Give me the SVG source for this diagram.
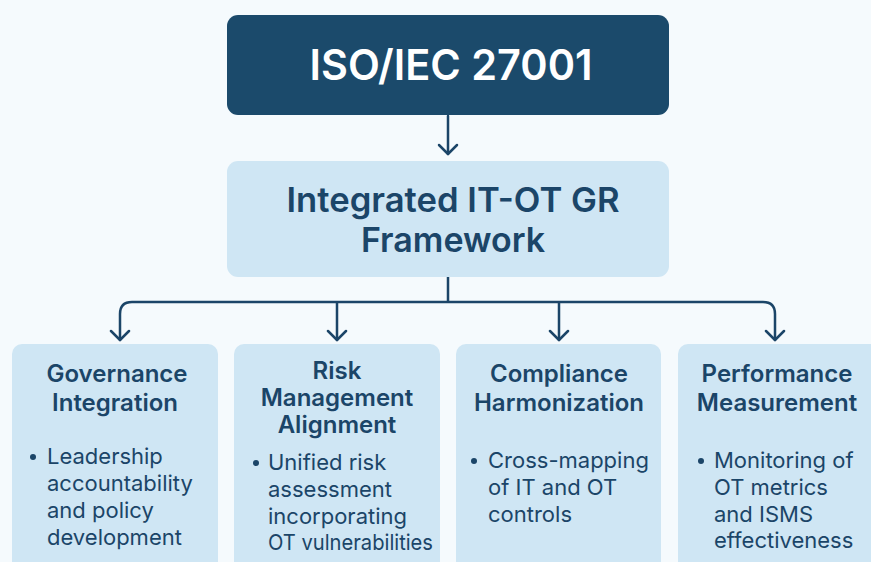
<svg xmlns="http://www.w3.org/2000/svg" width="871" height="562" viewBox="0 0 871 562">
<style>
.title{font-family:Inter,"Open Sans","Liberation Sans",sans-serif;font-weight:600;fill:#1b4568;text-anchor:middle}
.head{font-family:Inter,"Open Sans","Liberation Sans",sans-serif;font-weight:600;font-size:24px;fill:#1b4568;text-anchor:middle}
.body{font-family:Inter,"Open Sans","Liberation Sans",sans-serif;font-weight:400;font-size:22px;fill:#1b4568}
.card{fill:#cfe6f4}
.conn{fill:none;stroke:#1b4568;stroke-width:2.5;stroke-linecap:round;stroke-linejoin:round}
</style>
<rect width="871" height="562" fill="#f5fafd"/>
<g id="connectors">
<path class="conn" d="M448,116 V154"/>
<path class="conn" d="M448,154 l-9,-9 M448,154 l9,-9"/>
<path class="conn" d="M448,277 V302 M132,302 H763 M132,302 Q120,302 120,314 V340 M763,302 Q775,302 775,314 V340 M337,302 V340 M559,302 V340"/>
<path class="conn" d="M111,331 l9,9 l9,-9 M328,331 l9,9 l9,-9 M550,331 l9,9 l9,-9 M766,331 l9,9 l9,-9"/>
</g>
<g id="iso">
<rect x="227" y="15" width="442" height="100" rx="11" fill="#1b4a6b"/>
<text x="451" y="80" class="title" style="fill:#ffffff;font-size:42px" textLength="283" lengthAdjust="spacingAndGlyphs">ISO/IEC 27001</text>
</g>
<g id="framework">
<rect x="227" y="161" width="442" height="116" rx="11" class="card"/>
<text x="453" y="212" class="title" style="font-size:34px" textLength="333" lengthAdjust="spacingAndGlyphs">Integrated IT-OT GR</text>
<text x="453" y="252" class="title" style="font-size:34px">Framework</text>
</g>
<g id="governance">
<rect x="12" y="344" width="206" height="230" rx="10" class="card"/>
<text x="117" y="382" class="head">Governance</text>
<text x="115" y="411" class="head">Integration</text>
<circle cx="33" cy="457" r="3" fill="#1b4568"/>
<text class="body"><tspan x="47" y="464">Leadership</tspan><tspan x="47" y="491">accountability</tspan><tspan x="47" y="518">and policy</tspan><tspan x="47" y="545">development</tspan></text>
</g>
<g id="risk">
<rect x="234" y="344" width="206" height="230" rx="10" class="card"/>
<text x="337" y="379" class="head">Risk</text>
<text x="337" y="406" class="head">Management</text>
<text x="337" y="433" class="head">Alignment</text>
<circle cx="256" cy="463" r="3" fill="#1b4568"/>
<text class="body"><tspan x="268" y="470">Unified risk</tspan><tspan x="268" y="497">assessment</tspan><tspan x="268" y="524">incorporating</tspan><tspan x="268" y="550" textLength="165" lengthAdjust="spacingAndGlyphs">OT vulnerabilities</tspan></text>
</g>
<g id="compliance">
<rect x="456" y="344" width="205" height="230" rx="10" class="card"/>
<text x="559" y="382" class="head">Compliance</text>
<text x="559" y="411" class="head">Harmonization</text>
<circle cx="474" cy="461" r="3" fill="#1b4568"/>
<text class="body"><tspan x="488" y="468">Cross-mapping</tspan><tspan x="488" y="495">of IT and OT</tspan><tspan x="488" y="522">controls</tspan></text>
</g>
<g id="performance">
<rect x="678" y="344" width="210" height="230" rx="10" class="card"/>
<text x="777" y="382" class="head">Performance</text>
<text x="777" y="411" class="head">Measurement</text>
<circle cx="701" cy="461" r="3" fill="#1b4568"/>
<text class="body"><tspan x="714" y="468">Monitoring of</tspan><tspan x="714" y="495">OT metrics</tspan><tspan x="714" y="522">and ISMS</tspan><tspan x="714" y="548">effectiveness</tspan></text>
</g>
</svg>
